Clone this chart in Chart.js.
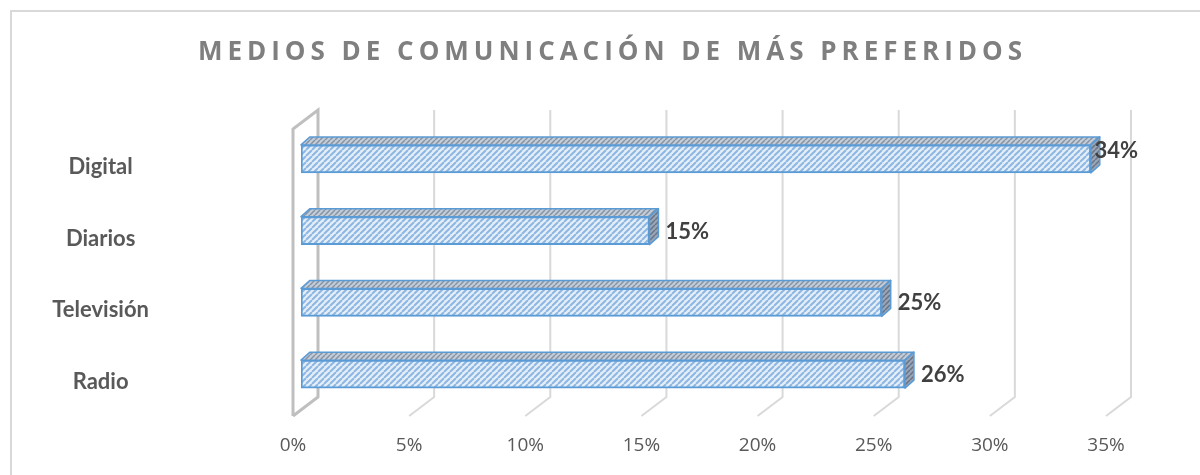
<!DOCTYPE html>
<html>
<head>
<meta charset="utf-8">
<script src="https://cdn.jsdelivr.net/npm/chart.js@4.4.1/dist/chart.umd.min.js"></script>
<style>
  html, body { margin: 0; padding: 0; background: #fff; }
  #wrap { position: relative; width: 1200px; height: 475px; overflow: hidden; }
  #frame { position: absolute; left: 10px; top: 10px; width: 1200px; height: 480px; border: 2px solid #d9d9d9; box-sizing: border-box; }
  canvas { position: absolute; left: 0; top: 0; }
</style>
</head>
<body>
<div id="wrap">
  <div id="frame"></div>
  <canvas id="chart" width="1200" height="475"></canvas>
</div>
<script>
// datos
const chartTitle = 'MEDIOS DE COMUNICACIÓN DE MÁS PREFERIDOS'
const categories = ['Digital', 'Diarios', 'Televisión', 'Radio']
const shares     = [34, 15, 25, 26]
const xTicks     = [0, 5, 10, 15, 20, 25, 30, 35]

// ─── Tramas (patterns) ───────────────────────────────────────────────────────

function hatch(bg, fg, size = 7, width = 2) {
    const c = document.createElement('canvas')
    c.width = size
    c.height = size
    const g = c.getContext('2d')
    g.fillStyle = bg
    g.fillRect(0, 0, size, size)
    g.strokeStyle = fg
    g.lineWidth = width
    g.beginPath()
    for (let k = -1; k <= 1; k++) {
        g.moveTo(k * size, size)
        g.lineTo(k * size + size, 0)
    }
    g.stroke()
    return g.createPattern(c, 'repeat')
}

const ctx = document.getElementById('chart').getContext('2d')
const frontFill = hatch('#e4eef9', '#8db7e2', 6)
const topFill   = hatch('#c3cdd9', '#8793a3', 5, 1.5)
const sideFill  = hatch('#9aa6b5', '#66748a', 5, 1.5)

const DX = 25, DY = 19      // profundidad del fondo
const BX = 9,  BY = 8       // profundidad de la barra

// ─── Plugins ─────────────────────────────────────────────────────────────────

const backWalls = {
    id: 'backWalls',
    beforeDatasetsDraw(chart) {
        const { ctx, chartArea: a, scales: { x } } = chart
        const top = a.top - 13, bottom = a.bottom - 13, floor = a.bottom + 6
        ctx.save()
        xTicks.forEach(v => {
            const sx = x.getPixelForValue(v)
            ctx.beginPath()
            if (v === 0) {
                ctx.strokeStyle = '#bfbfbf'
                ctx.lineWidth = 3
                ctx.moveTo(sx - 8, floor)
                ctx.lineTo(sx - 8, top + DY)
                ctx.lineTo(sx - 8 + DX, top)
                ctx.lineTo(sx - 8 + DX, bottom)
                ctx.lineTo(sx - 8, floor)
            } else {
                ctx.strokeStyle = '#d9d9d9'
                ctx.lineWidth = 2
                ctx.moveTo(sx - 8 + DX, top)
                ctx.lineTo(sx - 8 + DX, bottom)
                ctx.lineTo(sx - 8, floor)
            }
            ctx.stroke()
        })
        ctx.restore()
    }
}

const bars3d = {
    id: 'bars3d',
    afterDatasetsDraw(chart) {
        const { ctx, scales: { x } } = chart
        const meta = chart.getDatasetMeta(0)
        ctx.save()
        ctx.strokeStyle = '#5b9bd5'
        ctx.lineWidth = 1.5
        ctx.lineJoin = 'round'
        meta.data.forEach((bar, i) => {
            const l = bar.base, r = bar.x
            const t = bar.y - bar.height / 2, b = bar.y + bar.height / 2
            // cara superior
            ctx.beginPath()
            ctx.moveTo(l, t)
            ctx.lineTo(l + BX, t - BY)
            ctx.lineTo(r + BX, t - BY)
            ctx.lineTo(r, t)
            ctx.closePath()
            ctx.fillStyle = topFill
            ctx.fill()
            ctx.stroke()
            // cara lateral
            ctx.beginPath()
            ctx.moveTo(r, t)
            ctx.lineTo(r + BX, t - BY)
            ctx.lineTo(r + BX, b - BY)
            ctx.lineTo(r, b)
            ctx.closePath()
            ctx.fillStyle = sideFill
            ctx.fill()
            ctx.stroke()

            // etiqueta
            const text = shares[i] + '%'
            ctx.font = 'bold 22px Lato, "Open Sans", sans-serif'
            ctx.fillStyle = '#404040'
            ctx.textAlign = 'left'
            ctx.textBaseline = 'middle'
            const w = ctx.measureText(text).width
            const limit = x.right + 24
            let lx = r + BX + 7, ly = bar.y + 1
            if (lx + w > limit) { lx = limit - w; ly -= 9 }
            ctx.fillText(text, lx, ly)
        })
        ctx.restore()
    }
}

const spacedTitle = {
    id: 'spacedTitle',
    afterDraw(chart) {
        const { ctx } = chart
        const target = 824
        ctx.save()
        ctx.font = 'bold 26px "Open Sans", sans-serif'
        ctx.fillStyle = '#7f7f7f'
        ctx.textBaseline = 'middle'
        ctx.textAlign = 'left'
        const plain = ctx.measureText(chartTitle).width
        const sp = (target - plain) / (chartTitle.length - 1)
        ctx.letterSpacing = sp + 'px'
        ctx.fillText(chartTitle, 610 - target / 2, 53)
        ctx.restore()
    }
}

// ─── Gráfico ─────────────────────────────────────────────────────────────────

new Chart(ctx, {
    type: 'bar',
    data: {
        labels: categories,
        datasets: [{
            data: shares,
            backgroundColor: frontFill,
            borderColor: '#5b9bd5',
            borderWidth: 2,
            borderSkipped: false,
            barThickness: 28,
        }]
    },
    options: {
        indexAxis: 'y',
        responsive: false,
        animation: false,
        events: [],
        layout: { padding: { left: 11, right: 86, top: 123, bottom: 20 } },
        plugins: {
            legend: { display: false },
            title: { display: false },
            tooltip: { enabled: false },
        },
        scales: {
            x: {
                min: 0,
                max: 35,
                afterBuildTicks: s => { s.ticks = xTicks.map(v => ({ value: v })) },
                afterFit: s => { s.height = 45 },
                grid: { display: false, drawTicks: false },
                border: { display: false },
                ticks: {
                    callback: v => v + '%',
                    color: '#595959',
                    font: { family: '"Open Sans", sans-serif', size: 19 },
                    padding: 24,
                    labelOffset: -8,
                    maxRotation: 0,
                    autoSkip: false,
                },
            },
            y: {
                afterFit: s => {
                    s.width = 290
                    s.paddingTop = 0
                    s.paddingBottom = 0
                },
                grid: { display: false, drawTicks: false },
                border: { display: false },
                ticks: {
                    color: '#595959',
                    font: { family: 'Lato, "Open Sans", sans-serif', size: 22, weight: 'bold' },
                    crossAlign: 'center',
                    padding: 152,
                    labelOffset: 8,
                },
            },
        },
    },
    plugins: [backWalls, bars3d, spacedTitle],
})
</script>
</body>
</html>
